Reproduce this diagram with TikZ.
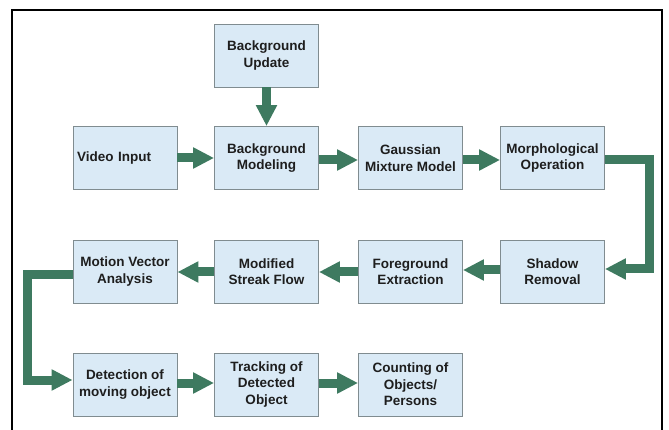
\documentclass[tikz,border=0pt]{standalone}
\usepackage{fontspec}
\setmainfont{Liberation Sans}
\usetikzlibrary{arrows.meta}
\definecolor{boxfill}{RGB}{218,234,246}
\definecolor{boxline}{RGB}{128,140,144}
\definecolor{arrowgreen}{RGB}{62,122,96}
\definecolor{txt}{RGB}{30,30,30}
\begin{document}
\begin{tikzpicture}[x=1pt,y=-1pt,
  blk/.style={rectangle, draw=boxline, line width=0.9pt, fill=boxfill,
    minimum width=104pt, minimum height=63pt, inner sep=1pt, align=center,
    text=txt, font=\bfseries\fontsize{13.5}{16.5}\selectfont},
  fat/.style={draw=arrowgreen, line width=9pt, line join=miter,
    -{Triangle[length=21pt,width=20pt]}}
]
\useasboundingbox (0,0) rectangle (669,430);
\fill[white] (0,0) rectangle (669,430);
% outer frame
\draw[line width=2pt, black] (12,430) -- (12,10) -- (662,10) -- (662,430);

% boxes
\node[blk] (bu) at (266.5,55.5) {Background\\Update};
\node[blk, text width=96pt, align=left] (vi) at (125,158) {Video Input};
\node[blk] (bm) at (266.5,158) {Background\\Modeling};
\node[blk] (gm) at (410.5,158) {Gaussian\\Mixture Model};
\node[blk] (mo) at (552.5,158) {Morphological\\Operation};
\node[blk] (sr) at (552.5,271.5) {Shadow\\Removal};
\node[blk] (fe) at (410.5,271.5) {Foreground\\Extraction};
\node[blk] (ms) at (266.5,271.5) {Modified\\Streak Flow};
\node[blk] (mv) at (125,271.5) {Motion Vector\\Analysis};
\node[blk] (dm) at (125,384.5) {Detection of\\moving object};
\node[blk] (tr) at (266.5,384.5) {Tracking of\\Detected\\Object};
\node[blk] (co) at (410.5,384.5) {Counting of\\Objects/\\Persons};

% elbow coordinates
\coordinate (r1) at (649,160);
\coordinate (r2) at (649,269);
\coordinate (l1) at (27,275);
\coordinate (l2) at (27,380);

% arrows
\draw[fat] (bu.south) -- (bm.north);
\draw[fat] (vi.east) -- (bm.west);
\draw[fat] (bm.east |- 0,160) -- (gm.west |- 0,160);
\draw[fat] (gm.east |- 0,160) -- (mo.west |- 0,160);
\draw[fat] (mo.east |- r1) -- (r1) -- (r2) -- (sr.east |- r2);
\draw[fat] (sr.west |- 0,270) -- (fe.east |- 0,270);
\draw[fat] (fe.west |- 0,272) -- (ms.east |- 0,272);
\draw[fat] (ms.west |- 0,272) -- (mv.east |- 0,272);
\draw[fat] (mv.west |- l1) -- (l1) -- (l2) -- (dm.west |- l2);
\draw[fat] (dm.east |- 0,383) -- (tr.west |- 0,383);
\draw[fat] (tr.east |- 0,383) -- (co.west |- 0,383);
\end{tikzpicture}
\end{document}
